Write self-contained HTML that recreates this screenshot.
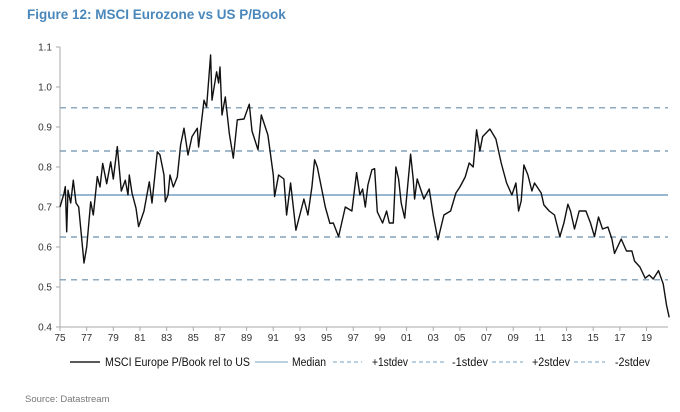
<!DOCTYPE html>
<html><head><meta charset="utf-8"><style>
body{margin:0;background:#fff;width:680px;height:407px;overflow:hidden;font-family:"Liberation Sans",sans-serif}
</style></head><body>
<svg id="chart" width="680" height="407" xmlns="http://www.w3.org/2000/svg">
<text x="27" y="19" font-size="13.5" font-weight="bold" fill="#4a87bb">Figure 12: MSCI Eurozone vs US P/Book</text>
<g id="axes"></g><g id="refs"></g><g id="series"></g><g id="legend"></g>
<text x="25" y="402" font-size="9.5" fill="#777">Source: Datastream</text>
</svg>
<script>
const years=[75.0,75.3,75.4,75.5,75.6,75.8,76.0,76.2,76.4,76.8,77.0,77.3,77.5,77.8,78.0,78.2,78.5,78.8,79.0,79.3,79.6,79.9,80.1,80.2,80.4,80.7,80.9,81.3,81.7,81.9,82.3,82.5,82.8,82.9,83.1,83.25,83.5,83.8,84.05,84.3,84.6,84.9,85.3,85.4,85.8,86.0,86.3,86.4,86.75,86.9,87.0,87.15,87.4,87.7,88.0,88.3,88.8,89.2,89.4,89.85,90.1,90.6,91.0,91.1,91.4,91.8,92.0,92.3,92.7,93.3,93.6,93.9,94.1,94.3,94.6,94.9,95.25,95.5,95.9,96.4,96.9,97.25,97.5,97.7,97.9,98.1,98.4,98.6,98.8,99.2,99.5,99.7,100.0,100.2,100.4,100.6,100.86,101.3,101.5,101.6,101.8,102.3,102.7,103.0,103.35,103.8,104.3,104.7,105.0,105.4,105.7,106.0,106.25,106.5,106.7,107.25,107.7,108.1,108.5,108.9,109.2,109.4,109.6,109.8,110.1,110.4,110.6,111.1,111.3,111.7,112.1,112.5,112.8,113.1,113.3,113.6,113.95,114.45,114.8,115.1,115.4,115.7,116.1,116.4,116.6,117.1,117.5,117.9,118.1,118.5,118.9,119.2,119.5,119.9,120.25,120.5,120.7];
const values=[0.70,0.734,0.751,0.638,0.742,0.71,0.767,0.71,0.70,0.56,0.60,0.713,0.68,0.776,0.75,0.809,0.758,0.813,0.77,0.851,0.74,0.767,0.73,0.78,0.735,0.697,0.651,0.69,0.763,0.71,0.838,0.83,0.78,0.713,0.73,0.78,0.75,0.775,0.855,0.897,0.83,0.876,0.897,0.85,0.967,0.95,1.08,0.967,1.038,1.01,1.05,0.93,0.975,0.884,0.822,0.918,0.92,0.957,0.89,0.843,0.93,0.88,0.78,0.726,0.78,0.77,0.68,0.76,0.642,0.72,0.68,0.75,0.818,0.80,0.75,0.70,0.659,0.66,0.626,0.70,0.69,0.786,0.73,0.745,0.70,0.755,0.793,0.796,0.688,0.66,0.69,0.66,0.66,0.80,0.77,0.71,0.672,0.832,0.77,0.72,0.77,0.72,0.745,0.68,0.618,0.68,0.69,0.735,0.75,0.775,0.81,0.80,0.893,0.84,0.876,0.895,0.87,0.81,0.76,0.73,0.76,0.69,0.715,0.805,0.78,0.74,0.76,0.735,0.705,0.69,0.68,0.626,0.66,0.707,0.69,0.645,0.69,0.69,0.66,0.626,0.675,0.645,0.65,0.62,0.584,0.62,0.59,0.59,0.565,0.55,0.522,0.53,0.52,0.541,0.508,0.455,0.424];
const refNames=["median","plus-1-stdev","minus-1-stdev","plus-2-stdev","minus-2-stdev"];
const refValues=[0.73,0.84,0.625,0.948,0.518];
const yTicks=[0.4,0.5,0.6,0.7,0.8,0.9,1.0,1.1];
const xTickYears=[75,77,79,81,83,85,87,89,91,93,95,97,99,101,103,105,107,109,111,113,115,117,119];
const legendLabels=["MSCI Europe P/Book rel to US","Median","+1stdev","-1stdev","+2stdev","-2stdev"];
const NS="http://www.w3.org/2000/svg";
const X0=60,X1=668,Y0=327;
const xs=y=>X0+(y-75)*13.33;
const ys=v=>Y0-(v-0.4)*400;
function mk(tag,attrs,parent,txt){const e=document.createElementNS(NS,tag);for(const k in attrs)e.setAttribute(k,attrs[k]);if(txt!==undefined)e.textContent=txt;parent.appendChild(e);return e;}
const axes=document.getElementById('axes');
let a=mk('line',{x1:X0,y1:ys(1.1),x2:X0,y2:Y0,stroke:'#aaa','stroke-width':1},axes);


a=mk('line',{x1:X0,y1:Y0,x2:X1,y2:Y0,stroke:'#aaa','stroke-width':1},axes);


yTicks.forEach(v=>{
  mk('line',{x1:X0-4,y1:ys(v),x2:X0,y2:ys(v),stroke:'#aaa'},axes);
  const t=mk('text',{x:X0-8,y:ys(v)+3.5,'font-size':10,'text-anchor':'end',fill:'#333'},axes,v.toFixed(1));
  
  
});
xTickYears.forEach(y=>{
  mk('line',{x1:xs(y),y1:Y0,x2:xs(y),y2:Y0+4,stroke:'#aaa'},axes);
  const t=mk('text',{x:xs(y),y:Y0+14,'font-size':10,'text-anchor':'middle',fill:'#333'},axes,String(y%100).padStart(2,'0'));
  
  
});
const refs=document.getElementById('refs');
refValues.forEach((v,i)=>{
  const l=mk('line',{x1:X0,y1:ys(v),x2:X1,y2:ys(v),stroke:i===0?'#5b8db8':'#6a8fae','stroke-width':i===0?1.3:1.2,'stroke-dasharray':i===0?'':'6,5'},refs);
  
  
});
const p=mk('path',{d:years.map((y,i)=>(i?'L':'M')+xs(y).toFixed(1)+','+ys(values[i]).toFixed(1)).join(''),fill:'none',stroke:'#111','stroke-width':1.4,'stroke-linejoin':'round'},document.getElementById('series'));


const lg=document.getElementById('legend');
const lx=[70,255,333,412,492,574],lw=[30,33,29,33,31,31],tx=[105,292,372,452,532,615],tw=[145,34,36,36,38,35];
legendLabels.forEach((s,i)=>{
  const ln=mk('line',{x1:lx[i],y1:362,x2:lx[i]+lw[i],y2:362,stroke:i===0?'#222':'#8fb3cf','stroke-width':i===0?1.5:1.2,'stroke-dasharray':i<2?'':'4,3'},lg);
  
  
  const t=mk('text',{x:tx[i],y:366,'font-size':11.5,fill:'#111',textLength:tw[i],lengthAdjust:'spacingAndGlyphs'},lg,s);
  
  
});
</script>
</body></html>
